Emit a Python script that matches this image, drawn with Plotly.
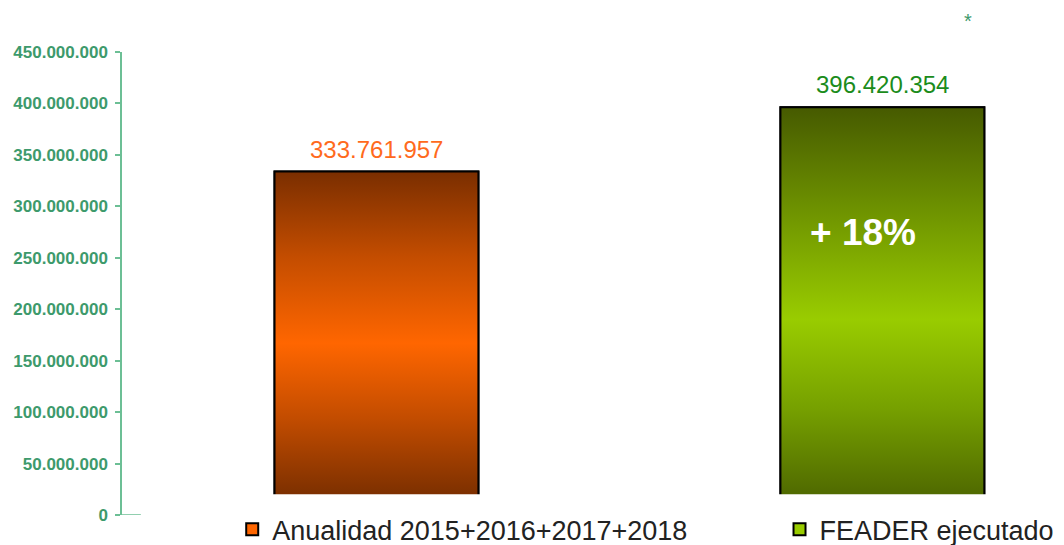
import math
import plotly.graph_objects as go

# ---- data ----
categories = ["Anualidad 2015+2016+2017+2018", "FEADER ejecutado"]
values = [333761957, 396420354]
tick_values = [0, 50000000, 100000000, 150000000, 200000000, 250000000,
               300000000, 350000000, 400000000, 450000000]
label_colors = ["#ff6a1c", "#1b8c1b"]
legend_colors = ["#ff6600", "#99cc00"]
gradients = [
    [[0.0, "#7a2f00"], [0.06, "#7d3000"], [0.28, "#c24c00"], [0.50, "#ff6600"],
     [0.75, "#c44d00"], [1.0, "#7a2e00"]],
    [[0.0, "#4e6800"], [0.05, "#506a00"], [0.26, "#76a000"], [0.48, "#99cc00"],
     [0.74, "#6f9400"], [1.0, "#465a00"]],
]

BAR_W = 0.403
AXIS_GREEN = "#6cbf95"
TEXT_GREEN = "#3d9a6c"
FONT = "Arial, Liberation Sans"

fig = go.Figure()

legend_names = ["legend", "legend2"]
for i, (cat, v) in enumerate(zip(categories, values)):
    # bar trace (provides the legend swatch)
    fig.add_trace(go.Bar(
        x=[i], y=[v], width=BAR_W, name=cat,
        marker=dict(color=legend_colors[i], line=dict(color="black", width=2)),
        legend=legend_names[i], showlegend=True, hoverinfo="skip",
    ))
for i, (cat, v) in enumerate(zip(categories, values)):
    # gradient fill overlay drawn from the same data
    x0, x1 = i - BAR_W / 2, i + BAR_W / 2
    fig.add_trace(go.Scatter(
        x=[x0, x0, x1, x1, x0], y=[0, v, v, 0, 0],
        mode="lines", fill="toself",
        fillgradient=dict(type="vertical", colorscale=gradients[i]),
        line=dict(color="black", width=2),
        showlegend=False, hoverinfo="skip",
    ))
    fig.add_annotation(
        x=i, y=v, text=f"{v:,}".replace(",", "."), showarrow=False,
        yanchor="bottom", yshift=7,
        font=dict(family=FONT, size=24, color=label_colors[i]),
    )

growth = math.floor((values[1] / values[0] - 1) * 100)
fig.add_annotation(
    x=1, xshift=-19, y=0.61, yref="paper", text=f"<b>+ {growth}%</b>",
    showarrow=False,
    font=dict(family=FONT, size=37, color="white"),
)
fig.add_annotation(
    x=0.904, y=1.095, xref="paper", yref="paper", text="*", showarrow=False,
    font=dict(family=FONT, size=20, color=TEXT_GREEN),
)

# mask the bottom part of the bars (as in the original picture)
fig.add_shape(type="rect", xref="paper", yref="paper",
              x0=0.08, x1=1.0, y0=-0.01, y1=0.045,
              fillcolor="white", line=dict(width=0), layer="above")
# zero-line stub
fig.add_shape(type="line", xref="paper", yref="y", x0=0, x1=0.02, y0=0, y1=0,
              line=dict(color=AXIS_GREEN, width=1.5), layer="above")

fig.update_layout(
    width=1056, height=537,
    margin=dict(l=114, r=0, t=44, b=30, autoexpand=False),
    paper_bgcolor="white", plot_bgcolor="white",
    separators=",.",
    barmode="overlay",
    xaxis=dict(range=[-0.503, 1.359], visible=False),
    yaxis=dict(
        range=[0, 450000000], tickvals=tick_values, tickformat=",.0f",
        showgrid=False, zeroline=False, automargin=False,
        showline=True, linecolor=AXIS_GREEN, linewidth=1.5,
        ticks="outside", ticklen=5, tickcolor=AXIS_GREEN, tickwidth=1.5,
        ticklabelstandoff=4,
        tickfont=dict(family=FONT, size=17, color=TEXT_GREEN, weight="bold"),
    ),
    legend=dict(x=0.117, y=-0.032, xanchor="left", yanchor="middle",
                font=dict(family=FONT, size=27, color="#222222"),
                bgcolor="rgba(0,0,0,0)"),
    legend2=dict(x=0.698, y=-0.032, xanchor="left", yanchor="middle",
                 font=dict(family=FONT, size=27, color="#222222"),
                 bgcolor="rgba(0,0,0,0)"),
    showlegend=True,
)

fig.write_html("out.html")
